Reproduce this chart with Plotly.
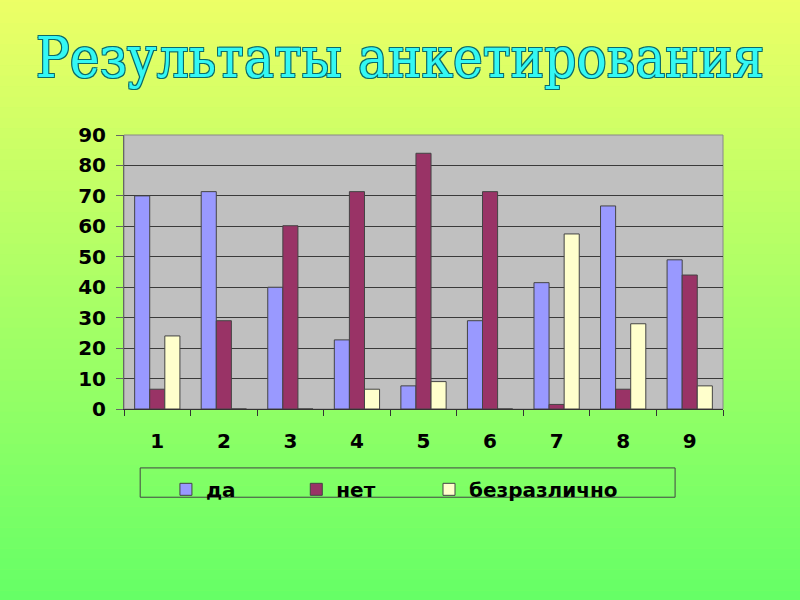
import plotly.graph_objects as go

# survey results, questions 1..9
categories = ["1", "2", "3", "4", "5", "6", "7", "8", "9"]
da = [70, 71.4, 40, 22.7, 7.6, 29, 41.5, 66.7, 49]
net = [6.5, 29, 60.2, 71.4, 84, 71.4, 1.5, 6.5, 44]
bezrazlichno = [24, 0, 0, 6.5, 9, 0, 57.5, 28, 7.6]
y_ticks = [0, 10, 20, 30, 40, 50, 60, 70, 80, 90]

NB = "\u00a0"  # padding so legend entries sit where the original ones do


def mix(c1, c2, t):
    return "rgb(%d,%d,%d)" % tuple(round(a + (b - a) * t) for a, b in zip(c1, c2))


fig = go.Figure()
fig.add_trace(go.Bar(x=categories, y=da, name="да" + NB * 8,
                     marker=dict(color="#9999FF", line=dict(color="#444444", width=1))))
fig.add_trace(go.Bar(x=categories, y=net, name="нет" + NB * 7,
                     marker=dict(color="#993366", line=dict(color="#444444", width=1))))
fig.add_trace(go.Bar(x=categories, y=bezrazlichno, name="безразлично",
                     marker=dict(color="#FFFFCC", line=dict(color="#444444", width=1))))

# yellow -> green background gradient, drawn as thin stripes
top, bottom = (242, 255, 102), (102, 255, 102)
n = 60
shapes = []
for i in range(n):
    shapes.append(dict(type="rect", xref="paper", yref="paper", layer="below",
                       x0=-0.3, x1=1.3, y0=1.6 - (i + 1) * 2.3 / n - 0.002, y1=1.6 - i * 2.3 / n,
                       fillcolor=mix(top, bottom, i / (n - 1)), line=dict(width=0)))
# grey plot area on top of the gradient
shapes.append(dict(type="rect", xref="paper", yref="paper", layer="below",
                   x0=0, x1=1, y0=0, y1=1, fillcolor="#C0C0C0",
                   line=dict(color="#888888", width=1)))
# legend frame
shapes.append(dict(type="rect", xref="paper", yref="paper",
                   x0=0.027, x1=0.92, y0=-0.322, y1=-0.215,
                   line=dict(color="#444444", width=1)))

fig.update_layout(
    width=800, height=600,
    margin=dict(l=124, r=77, t=135, b=191),
    paper_bgcolor="#B8FF66",
    plot_bgcolor="#C0C0C0",
    shapes=shapes,
    barmode="group",
    bargap=0.32,
    bargroupgap=0,
    font=dict(family="DejaVu Sans", size=20, color="black", weight="bold"),
    title=dict(text="Результаты анкетирования", x=0.5, xanchor="center",
               y=0.905, yanchor="middle",
               font=dict(family="DejaVu Serif Condensed, Liberation Serif", size=56,
                         color="#33F8F4", weight="normal",
                         shadow="-1px -1px 0 #0B6B6B, 1px -1px 0 #0B6B6B, -1px 1px 0 #0B6B6B, 1px 1px 0 #0B6B6B")),
    showlegend=True,
    legend=dict(orientation="h", x=0.07, y=-0.222, xanchor="left", yanchor="top",
                bgcolor="rgba(0,0,0,0)", itemwidth=30,
                font=dict(family="DejaVu Sans", size=20, weight="bold")),
)
fig.update_xaxes(showgrid=False, showline=True, linecolor="#333333", linewidth=1,
                 ticks="outside", ticklen=6, tickcolor="#333333",
                 tickson="boundaries", mirror=False, ticklabelstandoff=14)
fig.update_yaxes(range=[0, 90], tickvals=y_ticks, showgrid=True, gridcolor="#3a3a3a",
                 gridwidth=1.3, showline=True, linecolor="#666666", linewidth=1,
                 ticks="outside", ticklen=7, tickcolor="#666666", zeroline=False,
                 ticklabelstandoff=6)

fig.write_html("out.html", config={"displayModeBar": False},
               post_script="document.body.style.margin='0';")
